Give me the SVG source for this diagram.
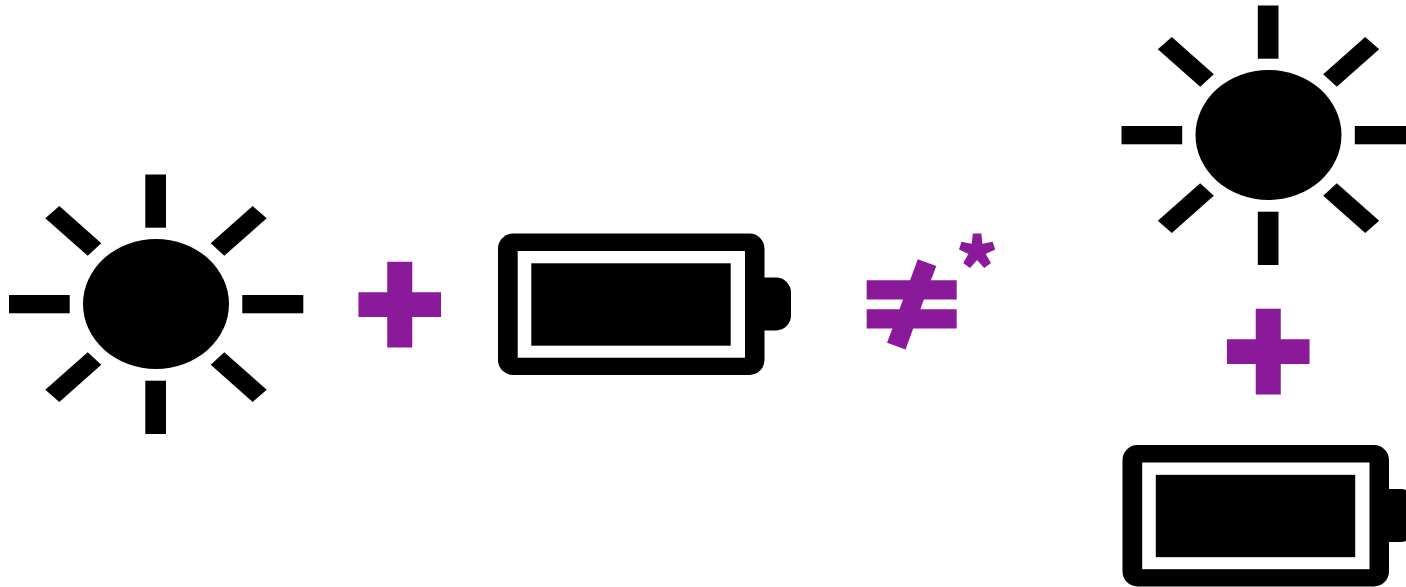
<svg xmlns="http://www.w3.org/2000/svg" width="1406" height="587" viewBox="0 0 1406 587">
  <style>
    .k { fill: #000; }
    .w { fill: #fff; }
    .op { fill: #8b1a9b; text-anchor: middle; font-weight: 900; }
    .plus { font-family: Inter, sans-serif; font-size: 120px; }
    .cjk { font-family: "Noto Sans CJK SC", sans-serif; stroke: #8b1a9b; }
  </style>
  <defs>
    <g id="sun-shape">
      <ellipse class="k" cx="156" cy="304" rx="73" ry="65"/>
      <rect class="k" x="145.3" y="174.5" width="20.7" height="53.2"/>
      <rect class="k" x="145.3" y="380.7" width="20.7" height="53.3"/>
      <rect class="k" x="9" y="295" width="60.7" height="18.3"/>
      <rect class="k" x="242.3" y="295" width="61" height="18.3"/>
      <polygon class="k" points="59.3,206 101.3,243.3 87.7,255.7 45.3,218.3"/>
      <polygon class="k" points="252.7,206 210.7,243.3 224.3,255.7 266.7,218.3"/>
      <polygon class="k" points="59.3,402 101.3,364.7 87.7,352.3 45.3,389.7"/>
      <polygon class="k" points="252.7,402 210.7,364.7 224.3,352.3 266.7,389.7"/>
    </g>
    <g id="battery-shape">
      <rect class="k" x="745" y="277.5" width="46" height="53" rx="15"/>
      <rect class="k" x="498" y="233.5" width="266.5" height="141.5" rx="15"/>
      <rect class="w" x="517.7" y="251" width="227.3" height="106.7"/>
      <rect class="k" x="531.3" y="263.3" width="199.4" height="82.4"/>
    </g>
  </defs>
  <rect class="w" width="1406" height="587"/>
  <g id="sun-left"><use href="#sun-shape"/></g>
  <g id="plus-left"><text class="op plus" transform="translate(399.7 353) scale(1.31 1.36)">+</text></g>
  <g id="battery-left"><use href="#battery-shape"/></g>
  <g id="not-equal"><text class="op cjk" transform="translate(911.6 349.5) scale(1.02 1)" font-size="119" stroke-width="5">≠</text></g>
  <g id="asterisk"><text class="op cjk" x="977" y="297" font-size="77" stroke-width="1.5">*</text></g>
  <g id="sun-right"><use href="#sun-shape" x="1112.5" y="-169"/></g>
  <g id="plus-right"><text class="op plus" transform="translate(1268.2 400) scale(1.31 1.36)">+</text></g>
  <g id="battery-right"><use href="#battery-shape" x="624.5" y="211.5"/></g>
</svg>
